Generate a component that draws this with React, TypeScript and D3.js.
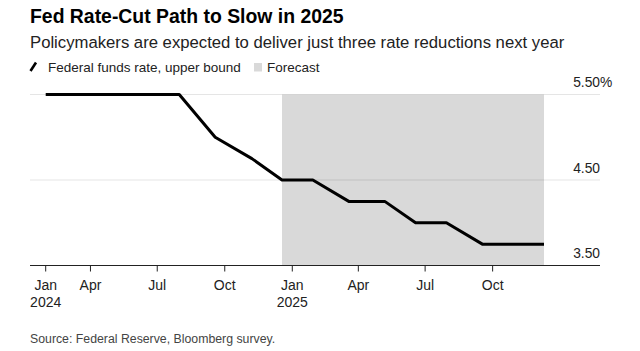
import { useEffect, useRef } from 'react';
import * as d3 from 'd3';

// FOMC decision dates and upper bound of the fed funds rate (2025 = survey forecast)
const meetingDates = [
  '2024-01-31', '2024-03-20', '2024-05-01', '2024-06-12', '2024-07-31',
  '2024-09-18', '2024-11-07', '2024-12-18', '2025-01-29', '2025-03-19',
  '2025-05-07', '2025-06-18', '2025-07-30', '2025-09-17', '2025-10-29',
  '2025-12-10',
];
const upperBound = [
  5.5, 5.5, 5.5, 5.5, 5.5, 5.0, 4.75, 4.5, 4.5, 4.25, 4.25, 4.0, 4.0, 3.75, 3.75, 3.75,
];
const forecastRange = ['2024-12-18', '2025-12-10'];
const yTicks = [3.5, 4.5, 5.5];
const gridValues = [4.5, 5.5];
// first label sits at the start of the data
const xTicks = [
  '2024-01-31', '2024-04-01', '2024-07-01', '2024-10-01',
  '2025-01-01', '2025-04-01', '2025-07-01', '2025-10-01',
];

const W = 640;
const H = 351;
const FONT = '"Liberation Sans", Arial, Helvetica, sans-serif';

export default function App() {
  const svgRef = useRef<SVGSVGElement>(null);

  useEffect(() => {
    const svg = d3.select(svgRef.current);
    svg.selectAll('*').remove();

    const plot = { left: 30, right: 600, top: 94.5, bottom: 265.5 };

    const parse = d3.utcParse('%Y-%m-%d');
    const dates = meetingDates.map((d) => parse(d)!);
    const x = d3
      .scaleUtc()
      .domain([dates[0], dates[dates.length - 1]])
      .range([45.7, 544]);
    const y = d3.scaleLinear().domain([3.5, 5.5]).range([plot.bottom, plot.top]);

    // title block
    svg.append('text')
      .attr('x', 30).attr('y', 23.3)
      .attr('font-family', FONT).attr('font-weight', 700).attr('font-size', 19.4)
      .attr('fill', '#000')
      .text('Fed Rate-Cut Path to Slow in 2025');
    svg.append('text')
      .attr('x', 30).attr('y', 48)
      .attr('font-family', FONT).attr('font-size', 16.7)
      .attr('fill', '#222')
      .text('Policymakers are expected to deliver just three rate reductions next year');

    // legend
    const lg = svg.append('g').attr('font-family', FONT).attr('font-size', 13.5).attr('fill', '#222');
    lg.append('line')
      .attr('x1', 30.5).attr('y1', 71).attr('x2', 36).attr('y2', 62.5)
      .attr('stroke', '#000').attr('stroke-width', 2.6);
    lg.append('text').attr('x', 48).attr('y', 72).text('Federal funds rate, upper bound');
    lg.append('rect')
      .attr('x', 254).attr('y', 63).attr('width', 8).attr('height', 8.5)
      .attr('fill', '#d9d9d9');
    lg.append('text').attr('x', 267).attr('y', 72).text('Forecast');

    // forecast shading
    const [f0, f1] = forecastRange.map((d) => x(parse(d)!));
    svg.append('rect')
      .attr('x', f0).attr('y', plot.top)
      .attr('width', f1 - f0).attr('height', plot.bottom - plot.top)
      .attr('fill', '#d9d9d9');

    // gridlines
    svg.append('g')
      .selectAll('line')
      .data(gridValues)
      .join('line')
      .attr('x1', plot.left).attr('x2', plot.right)
      .attr('y1', (d) => y(d)).attr('y2', (d) => y(d))
      .attr('stroke', 'rgba(0,0,0,0.1)').attr('stroke-width', 1.2);

    // y labels
    const yl = svg.append('g').attr('font-family', FONT).attr('font-size', 13.8).attr('fill', '#222');
    yl.selectAll('text')
      .data(yTicks)
      .join('text')
      .attr('x', plot.right).attr('y', (d) => y(d) - 7.5)
      .attr('text-anchor', 'end')
      .text((d) => d.toFixed(2));
    yl.append('text')
      .attr('x', plot.right).attr('y', y(yTicks[yTicks.length - 1]) - 7.5)
      .text('%');

    // rate path
    const line = d3
      .line<number>()
      .x((_, i) => x(dates[i]))
      .y((d) => y(d));
    svg.append('path')
      .datum(upperBound)
      .attr('d', line)
      .attr('fill', 'none')
      .attr('stroke', '#000')
      .attr('stroke-width', 3)
      .attr('stroke-linejoin', 'round');

    // x axis
    const xa = svg.append('g').attr('font-family', FONT).attr('font-size', 14).attr('fill', '#222');
    xa.append('line')
      .attr('x1', plot.left).attr('x2', plot.right)
      .attr('y1', plot.bottom).attr('y2', plot.bottom)
      .attr('stroke', '#222').attr('stroke-width', 1);
    const tickDates = xTicks.map((d) => parse(d)!);
    const tk = xa.selectAll('g.tick').data(tickDates).join('g').attr('class', 'tick')
      .attr('transform', (d) => `translate(${x(d)},0)`);
    tk.append('line')
      .attr('y1', plot.bottom).attr('y2', plot.bottom + 6)
      .attr('stroke', '#222');
    tk.append('text')
      .attr('y', plot.bottom + 24.5)
      .attr('text-anchor', 'middle')
      .text((d) => d3.utcFormat('%b')(d));
    tk.filter((d) => d.getUTCMonth() === 0)
      .append('text')
      .attr('y', plot.bottom + 41)
      .attr('text-anchor', 'middle')
      .text((d) => d3.utcFormat('%Y')(d));

    // source
    svg.append('text')
      .attr('x', 30).attr('y', 343)
      .attr('font-family', FONT).attr('font-size', 12.3)
      .attr('fill', '#444')
      .text('Source: Federal Reserve, Bloomberg survey.');
  }, []);

  return (
    <svg
      ref={svgRef}
      width={W}
      height={H}
      style={{ position: 'absolute', left: 0, top: 0, background: '#fff' }}
    />
  );
}
